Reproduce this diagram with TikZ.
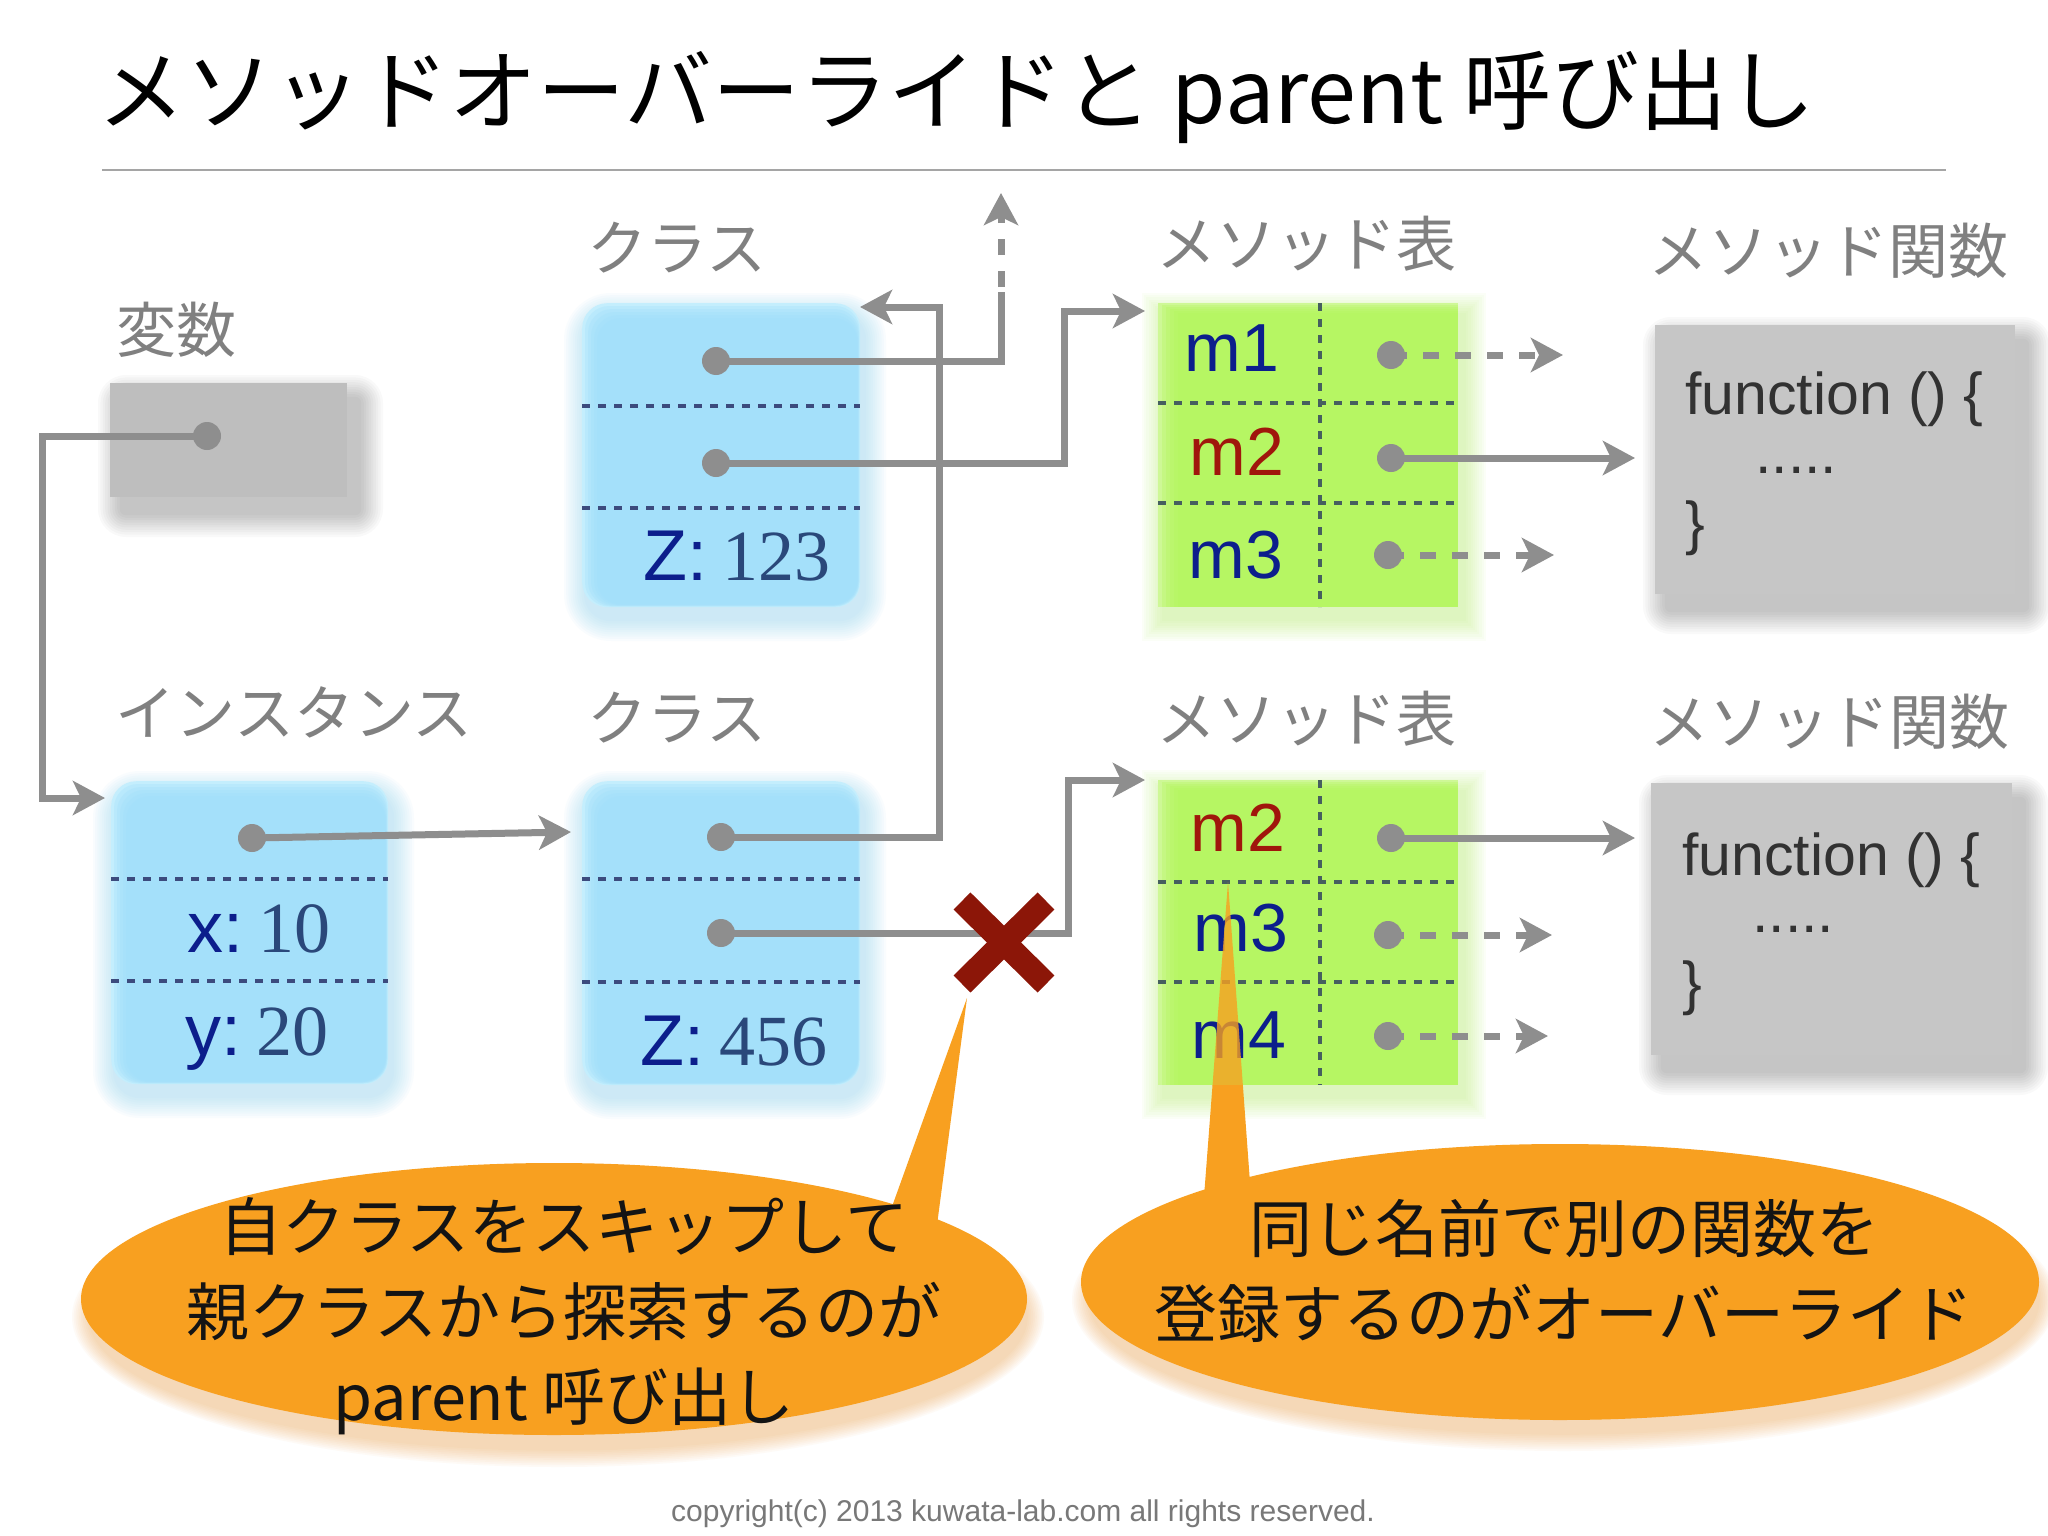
\documentclass[tikz,border=0pt]{standalone}
\usepackage{fontspec}
\setmainfont{Liberation Sans}
\newfontfamily\cjk{Noto Sans CJK JP}
\newfontfamily\numserif{Liberation Serif}
\usetikzlibrary{arrows.meta,shapes.geometric}

\definecolor{linegray}{RGB}{142,142,142}
\definecolor{labelgray}{RGB}{128,128,128}
\definecolor{boxblue}{RGB}{160,223,250}
\definecolor{rimblue}{RGB}{196,238,253}
\definecolor{glowblue}{RGB}{140,212,246}
\definecolor{tablegreen}{RGB}{180,246,92}
\definecolor{rimgreen}{RGB}{206,248,150}
\definecolor{glowgreen}{RGB}{175,240,90}
\definecolor{varfill}{RGB}{190,190,190}
\definecolor{funcfill}{RGB}{198,198,198}
\definecolor{navy}{RGB}{12,30,140}
\definecolor{numblue}{RGB}{42,72,122}
\definecolor{mred}{RGB}{160,22,12}
\definecolor{xred}{RGB}{140,22,8}
\definecolor{calloutorange}{RGB}{248,160,32}
\definecolor{shadoworange}{RGB}{240,170,90}
\definecolor{bluediv}{RGB}{60,75,125}
\definecolor{greendiv}{RGB}{70,95,95}
\definecolor{functext}{RGB}{50,50,50}
\definecolor{copygray}{RGB}{120,120,120}
\definecolor{rulegray}{RGB}{165,165,165}

% blue rounded box with glow: name, x1, y1, x2, y2
\newcommand\mkbluecell[5]{%
  \foreach \s in {1,...,10}{%
    \fill[glowblue, opacity=0.05, rounded corners={25+\s*2.2}]
      ({#2+4-\s*2.2},{#3+12-\s*2.2}) rectangle ({#4+4+\s*2.2},{#5+12+\s*2.2});}
  \node[bluebox, minimum width={#4-#2}, minimum height={#5-#3}] (#1) at (#2,#3) {};
  \foreach \s in {1,...,5}{%
    \fill[boxblue, opacity=0.3, rounded corners=24pt]
      ({#2+3*\s},{#3+3*\s}) rectangle ({#4-0.5*\s},{#5-0.5*\s});}
}
% green table with glow
\newcommand\mkgreencell[5]{%
  \foreach \s in {1,...,10}{%
    \fill[glowgreen, opacity=0.045]
      ({#2+6-\s*2.2},{#3+12-\s*2.2}) rectangle ({#4+6+\s*2.2},{#5+12+\s*2.2});}
  \node[greenbox, minimum width={#4-#2}, minimum height={#5-#3}] (#1) at (#2,#3) {};
  \foreach \s in {1,...,5}{%
    \fill[tablegreen, opacity=0.32]
      ({#2+4*\s},{#3+2*\s}) rectangle (#4,#5);}
}
% gray box with drop shadow: name, x1, y1, x2, y2, colour
\newcommand\mkgraycell[6]{%
  \foreach \s in {1,...,10}{%
    \fill[black, opacity=0.022, rounded corners={4+\s*2.4}]
      ({#2+12-\s*2.4},{#3+16-\s*2.4}) rectangle ({#4+12+\s*2.4},{#5+16+\s*2.4});}
  \node[graybox, fill=#6, minimum width={#4-#2}, minimum height={#5-#3}] (#1) at (#2,#3) {};
}

\begin{document}
\begin{tikzpicture}[x=1pt,y=-1pt,
  conn/.style={draw=linegray, line width=7pt},
  arr/.style={-{Stealth[length=32pt,width=34pt,inset=8pt]}},
  dashconn/.style={conn, dash pattern=on 16pt off 16pt},
  dot/.style={circle, fill=linegray, minimum size=28pt, inner sep=0pt},
  lbl/.style={text=labelgray, font=\cjk\fontsize{60}{70}\selectfont, inner sep=0pt},
  bluebox/.style={fill=rimblue, rounded corners=25pt, anchor=north west, inner sep=0pt},
  greenbox/.style={fill=rimgreen, anchor=north west, inner sep=0pt},
  graybox/.style={anchor=north west, inner sep=0pt},
  bdiv/.style={draw=bluediv, line width=4pt, dash pattern=on 8pt off 8pt},
  gdiv/.style={draw=greendiv, line width=3.5pt, dash pattern=on 8pt off 8pt},
  mname/.style={font=\fontsize{68}{80}\selectfont, inner sep=0pt, text=navy},
  field/.style={font=\fontsize{72}{80}\selectfont, inner sep=0pt, text=navy},
  ftext/.style={font=\fontsize{59}{70}\selectfont, inner sep=0pt, text=functext, anchor=base west},
  calltext/.style={font=\cjk\fontsize{63}{85}\selectfont, inner sep=0pt, align=center, text=black!92},
  callout/.style={ellipse, fill=calloutorange, inner sep=0pt},
  crossstroke/.style={draw=xred, line width=24pt},
]
\useasboundingbox (0,0) rectangle (2048,1536);
\fill[white] (0,0) rectangle (2048,1536);

% ---------- title ----------
\node[anchor=base west, inner sep=0pt, font=\cjk\fontsize{88}{100}\selectfont] (title) at (97,124)
  {メソッドオーバーライドと parent 呼び出し};
\draw[rulegray, line width=2.5pt] (102,170) -- (1946,170);

% ---------- labels ----------
\node[lbl] (lvar)   at (176,330) {変数};
\node[lbl] (linst)  at (294,712) {インスタンス};
\node[lbl] (lcls1)  at (677,248) {クラス};
\node[lbl] (lcls2)  at (677,718) {クラス};
\node[lbl] (lmt1)   at (1306,244) {メソッド表};
\node[lbl] (lmt2)   at (1306,719) {メソッド表};
\node[lbl] (lfn1)   at (1828,251) {メソッド関数};
\node[lbl] (lfn2)   at (1829,722) {メソッド関数};

% ---------- gray boxes ----------
\mkgraycell{var}{110}{383}{347}{497}{varfill}
\mkgraycell{fn1}{1655}{325}{2015}{594}{funcfill}
\mkgraycell{fn2}{1651}{783}{2012}{1055}{funcfill}

% ---------- blue boxes ----------
\mkbluecell{inst}{111}{781}{388}{1084}
\mkbluecell{cls1}{582}{303}{860}{607}
\mkbluecell{cls2}{582}{781}{860}{1085}
\draw[bdiv] (111,879) -- (388,879);
\draw[bdiv] (111,981) -- (388,981);
\draw[bdiv] (582,406) -- (860,406);
\draw[bdiv] (582,508) -- (860,508);
\draw[bdiv] (582,879) -- (860,879);
\draw[bdiv] (582,982) -- (860,982);

% ---------- method tables ----------
\mkgreencell{mt1}{1158}{303}{1458}{607}
\mkgreencell{mt2}{1158}{780}{1458}{1085}
\draw[gdiv] (1158,403) -- (1458,403);
\draw[gdiv] (1158,503) -- (1458,503);
\draw[gdiv] (1320,303) -- (1320,607);
\draw[gdiv] (1158,882) -- (1458,882);
\draw[gdiv] (1158,982) -- (1458,982);
\draw[gdiv] (1320,780) -- (1320,1085);

% ---------- texts in boxes ----------
\node[field] (xval) at (259,929) {x:\hspace{0.2em}{\numserif\color{numblue}10}};
\node[field] (yval) at (257,1039) {y:\hspace{0.2em}{\numserif\color{numblue}20}};
\node[field] (z1)   at (737,556) {Z:\hspace{0.2em}{\numserif\color{numblue}123}};
\node[field] (z2)   at (734,1041) {Z:\hspace{0.2em}{\numserif\color{numblue}456}};

\node[mname] (m1a) at (1232,348) {m1};
\node[mname, text=mred] (m2a) at (1237,452) {m2};
\node[mname] (m3a) at (1236,555) {m3};
\node[mname, text=mred] (m2b) at (1238,828) {m2};
\node[mname] (m3b) at (1241,928) {m3};
\node[mname] (m4b) at (1239,1035) {m4};

\node[ftext] (f1a) at (1685,414) {function () \{};
\node[ftext] (f1b) at (1755,473) {.....};
\node[ftext] (f1c) at (1685,543) {\}};
\node[ftext] (f2a) at (1682,875) {function () \{};
\node[ftext] (f2b) at (1752,932) {.....};
\node[ftext] (f2c) at (1682,1003) {\}};

% ---------- dots ----------
\node[dot] (vdot)  at (207,436) {};
\node[dot] (idot)  at (252,838) {};
\node[dot] (c1d1)  at (716,361) {};
\node[dot] (c1d2)  at (716,463) {};
\node[dot] (c2d1)  at (721,837) {};
\node[dot] (c2d2)  at (721,933) {};
\node[dot] (t1d1)  at (1391,355) {};
\node[dot] (t1d2)  at (1391,458) {};
\node[dot] (t1d3)  at (1388,555) {};
\node[dot] (t2d1)  at (1391,838) {};
\node[dot] (t2d2)  at (1388,935) {};
\node[dot] (t2d3)  at (1388,1036) {};

% ---------- coordinates for connector ends ----------
\coordinate (vbend)  at (42,436);
\coordinate (vin)    at (105,798);
\coordinate (c2in)   at (571,832);
\coordinate (pbend)  at (939,307);
\coordinate (c1in)   at (860,307);
\coordinate (upbend) at (1001,292);
\coordinate (upstart) at (1001,287);
\coordinate (uptip)  at (1001,193);
\coordinate (t1bend) at (1064,311);
\coordinate (t1in)   at (1145,311);
\coordinate (t2bend) at (1068,780);
\coordinate (t2in)   at (1145,780);
\coordinate (f1in)   at (1635,458);
\coordinate (f2in)   at (1635,838);
\coordinate (d1end)  at (1563,355);
\coordinate (d3end)  at (1554,555);
\coordinate (e2end)  at (1552,935);
\coordinate (e3end)  at (1548,1036);

% ---------- connectors ----------
\draw[conn, arr] (vdot.center) -- (vbend) |- (vin);
\draw[conn, arr] (idot.center) -- (c2in);
\draw[conn, arr] (c2d1.center) -| (pbend) -- (c1in);
\draw[conn] (c1d1.center) -| (upbend);
\draw[dashconn, arr] (upstart) -- (uptip);
\draw[conn, arr] (c1d2.center) -| (t1bend) -- (t1in);
\draw[conn, arr] (c2d2.center) -| (t2bend) -- (t2in);
\draw[dashconn, arr] (t1d1.center) -- (d1end);
\draw[conn, arr] (t1d2.center) -- (f1in);
\draw[dashconn, arr] (t1d3.center) -- (d3end);
\draw[conn, arr] (t2d1.center) -- (f2in);
\draw[dashconn, arr] (t2d2.center) -- (e2end);
\draw[dashconn, arr] (t2d3.center) -- (e3end);

% ---------- red cross ----------
\draw[crossstroke] (962,901) -- (1046,984);
\draw[crossstroke] (1046,901) -- (962,984);

% ---------- callouts ----------
\foreach \s in {1,...,10}{%
  \fill[shadoworange, opacity=0.05] (558,1317) ellipse [x radius={468+\s*1.8}, y radius={132+\s*1.8}];
  \fill[shadoworange, opacity=0.05] (1564,1300) ellipse [x radius={474+\s*1.8}, y radius={133+\s*1.8}];
}
\coordinate (ltip) at (967,998);
\coordinate (rtip) at (1228,882);
\fill[calloutorange] (ltip) -- (935,1240) -- (880,1240) -- cycle;
\begin{scope}
  \clip (0,1085) rectangle (2048,1536);
  \fill[calloutorange] (rtip) -- (1252,1210) -- (1203,1210) -- cycle;
\end{scope}
\begin{scope}
  \clip (0,0) rectangle (2048,1085);
  \fill[calloutorange, opacity=0.8] (rtip) -- (1252,1210) -- (1203,1210) -- cycle;
\end{scope}
\node[callout, minimum width=946pt, minimum height=272pt] (lcall) at (554,1299) {};
\node[callout, minimum width=958pt, minimum height=276pt] (rcall) at (1560,1282) {};

\node[calltext] (ltext) at (564,1316) {自クラスをスキップして\\親クラスから探索するのが\\parent 呼び出し};
\node[calltext] (rtext) at (1564,1271) {同じ名前で別の関数を\\登録するのがオーバーライド};

% ---------- footer ----------
\node[anchor=base, inner sep=0pt, font=\fontsize{30}{36}\selectfont, text=copygray] (copy) at (1023,1521)
  {copyright(c) 2013 kuwata-lab.com all rights reserved.};
\end{tikzpicture}
\end{document}
